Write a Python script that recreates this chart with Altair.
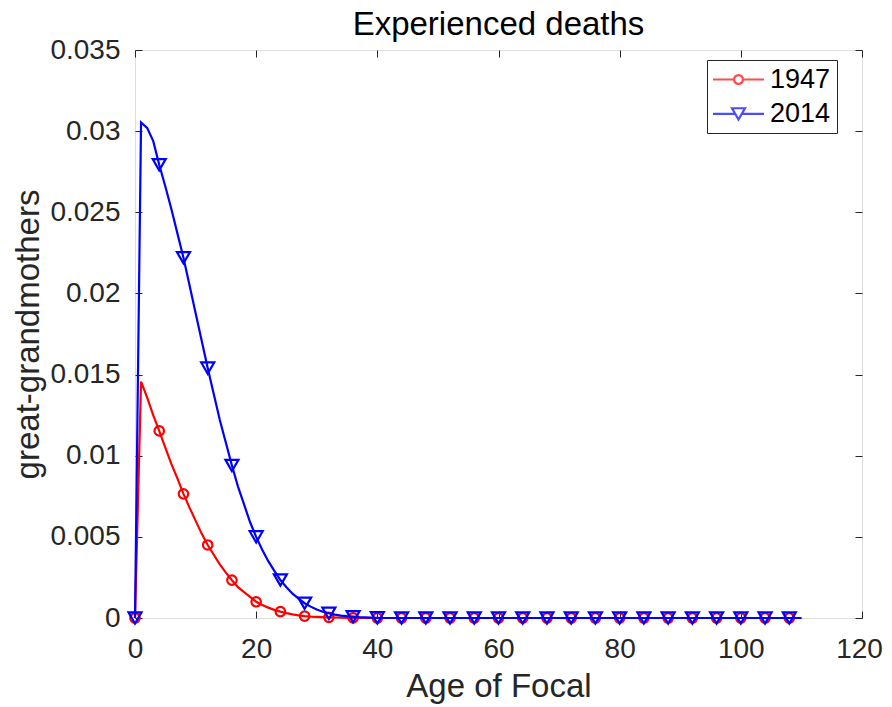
import altair as alt
import pandas as pd

# ---- data ----
ages = list(range(111))
g1947 = [
    0.0, 0.01457, 0.0136, 0.0125, 0.01153, 0.0105, 0.0095, 0.0086, 0.00765, 0.0068,
    0.0060, 0.0052, 0.0045, 0.0039, 0.0033, 0.0028, 0.00233, 0.0019, 0.0016, 0.0013,
    0.0010, 0.0008, 0.00064, 0.0005, 0.00039, 0.0003, 0.00022, 0.00016, 0.00012, 0.00009,
    0.00007, 0.00005, 0.00004, 0.00003, 0.00002, 0.00001, 0.00001, 0.0, 0.0, 0.0,
    0.0, 0.0, 0.0, 0.0, 0.0, 0.0, 0.0, 0.0, 0.0, 0.0,
    0.0, 0.0, 0.0, 0.0, 0.0, 0.0, 0.0, 0.0, 0.0, 0.0,
    0.0, 0.0, 0.0, 0.0, 0.0, 0.0, 0.0, 0.0, 0.0, 0.0,
    0.0, 0.0, 0.0, 0.0, 0.0, 0.0, 0.0, 0.0, 0.0, 0.0,
    0.0, 0.0, 0.0, 0.0, 0.0, 0.0, 0.0, 0.0, 0.0, 0.0,
    0.0, 0.0, 0.0, 0.0, 0.0, 0.0, 0.0, 0.0, 0.0, 0.0,
    0.0, 0.0, 0.0, 0.0, 0.0, 0.0, 0.0, 0.0, 0.0, 0.0,
    0.0,
]
g2014 = [
    0.0, 0.03054, 0.0302, 0.0294, 0.02793, 0.0266, 0.0252, 0.0237, 0.0222, 0.0205,
    0.0188, 0.0171, 0.0154, 0.0138, 0.0122, 0.0108, 0.0094, 0.0081, 0.0070, 0.0059,
    0.0050, 0.0042, 0.0035, 0.0029, 0.00234, 0.0019, 0.0015, 0.0012, 0.00091, 0.0007,
    0.00052, 0.00039, 0.00029, 0.00021, 0.00015, 0.00011, 0.00008, 0.00005, 0.00004, 0.00002,
    0.00001, 0.0, 0.0, 0.0, 0.0, 0.0, 0.0, 0.0, 0.0, 0.0,
    0.0, 0.0, 0.0, 0.0, 0.0, 0.0, 0.0, 0.0, 0.0, 0.0,
    0.0, 0.0, 0.0, 0.0, 0.0, 0.0, 0.0, 0.0, 0.0, 0.0,
    0.0, 0.0, 0.0, 0.0, 0.0, 0.0, 0.0, 0.0, 0.0, 0.0,
    0.0, 0.0, 0.0, 0.0, 0.0, 0.0, 0.0, 0.0, 0.0, 0.0,
    0.0, 0.0, 0.0, 0.0, 0.0, 0.0, 0.0, 0.0, 0.0, 0.0,
    0.0, 0.0, 0.0, 0.0, 0.0, 0.0, 0.0, 0.0, 0.0, 0.0,
    0.0,
]
series = ["1947", "2014"]
series_colors = ["#ff0000", "#0000ff"]
x_ticks = [0, 20, 40, 60, 80, 100, 120]
y_ticks = [0, 0.005, 0.01, 0.015, 0.02, 0.025, 0.03, 0.035]

df = pd.DataFrame({"age": ages, "g1947": g1947, "g2014": g2014})
legend_df = pd.DataFrame({"series": series})

W, H = 727, 568
FONT = "Liberation Sans"
AX = "#262626"

xscale = alt.Scale(domain=[0, 120], nice=False, zero=False)
yscale = alt.Scale(domain=[0, 0.035], nice=False)

base = alt.Chart(df)

main_x = alt.Axis(values=x_ticks, title="Age of Focal", ticks=False, domain=False, grid=False,
                  labelFlush=False, labelOverlap=False,
                  labelOffset={"condition": {"test": "datum.value >= 120", "value": -3}, "value": 0},
                  labelFontSize=28, labelFont=FONT, labelColor=AX, labelPadding=17,
                  titleFontSize=33, titleFont=FONT, titleColor=AX, titleFontWeight="normal",
                  titlePadding=7)
main_y = alt.Axis(values=y_ticks, format="~g", title="great-grandmothers", ticks=False, domain=False,
                  grid=False, labelFlush=False, labelOverlap=False,
                  labelFontSize=28, labelFont=FONT, labelColor=AX, labelPadding=15,
                  titleFontSize=33, titleFont=FONT, titleColor=AX, titleFontWeight="normal",
                  titlePadding=4)

red_line = base.mark_line(color=series_colors[0], strokeWidth=2.2).encode(
    x=alt.X("age:Q", scale=xscale, axis=main_x),
    y=alt.Y("g1947:Q", scale=yscale, axis=main_y),
)

def tick_axis(orient, offset, vals):
    return alt.Axis(orient=orient, offset=offset, values=vals, labels=False, domain=False,
                    grid=False, ticks=True, tickSize=7, tickColor=AX, tickWidth=1, title=None)

ticks_a = base.mark_point(opacity=0).encode(
    x=alt.X("age:Q", scale=xscale, axis=tick_axis("top", -H, x_ticks)),
    y=alt.Y("g1947:Q", scale=yscale, axis=tick_axis("right", -W, y_ticks)),
)
ticks_b = base.mark_point(opacity=0).encode(
    x=alt.X("age:Q", scale=xscale, axis=tick_axis("bottom", -H, x_ticks)),
    y=alt.Y("g1947:Q", scale=yscale, axis=tick_axis("left", -W, y_ticks)),
)

red_pts = base.transform_filter("datum.age % 4 == 0").mark_point(
    shape="circle", filled=False, color=series_colors[0], strokeWidth=2.2, size=90, opacity=1
).encode(
    x=alt.X("age:Q", scale=xscale, axis=None),
    y=alt.Y("g1947:Q", scale=yscale, axis=None),
)
blue_line = base.mark_line(color=series_colors[1], strokeWidth=2.2).encode(
    x=alt.X("age:Q", scale=xscale, axis=None),
    y=alt.Y("g2014:Q", scale=yscale, axis=None),
)
blue_pts = base.transform_filter("datum.age % 4 == 0").mark_point(
    shape="triangle-down", filled=False, color=series_colors[1], strokeWidth=2.2, size=170, opacity=1
).encode(
    x=alt.X("age:Q", scale=xscale, axis=None),
    y=alt.Y("g2014:Q", scale=yscale, axis=None),
)

# legend glyphs: a line with the marker in its middle (units of 12 px)
circle_path = ("M-2.125,0L-0.37,0M0.37,0L2.125,0M0.37,0A0.37,0.37,0,1,1,-0.37,0"
               "A0.37,0.37,0,1,1,0.37,0")
tri_path = "M-2.125,0L-0.27,0M0.27,0L2.125,0M-0.54,-0.47L0.54,-0.47L0,0.47Z"

leg = alt.Legend(title=None, orient="none", legendX=572, legendY=10,
                 symbolSize=576, symbolOffset=12, symbolStrokeWidth=2.2,
                 labelFontSize=27, labelFont=FONT, labelColor="black", labelOffset=18,
                 padding=6, rowPadding=6.4,
                 strokeColor=AX, fillColor="white", symbolFillColor="transparent")

legend_layer = alt.Chart(legend_df).transform_filter("false").mark_point(
    filled=False, strokeWidth=2.2
).encode(
    color=alt.Color("series:N", scale=alt.Scale(domain=series, range=series_colors), legend=leg),
    shape=alt.Shape("series:N", scale=alt.Scale(domain=series, range=[circle_path, tri_path]), legend=leg),
)

chart = alt.layer(
    red_line, ticks_a, ticks_b, red_pts, blue_line, blue_pts, legend_layer
).resolve_axis(
    x="independent", y="independent"
).properties(
    width=W, height=H,
    title=alt.TitleParams("Experienced deaths", fontSize=33, font=FONT, fontWeight="normal",
                          color="black", offset=-6, anchor="middle", frame="group"),
    autosize=alt.AutoSizeParams(type="none"),
    padding={"left": 127, "top": 42, "right": 22, "bottom": 89},
).configure_view(
    stroke=AX, strokeWidth=1
).configure(
    background="white"
)

chart.save("out.html", embed_options={"renderer": "svg", "actions": False})
